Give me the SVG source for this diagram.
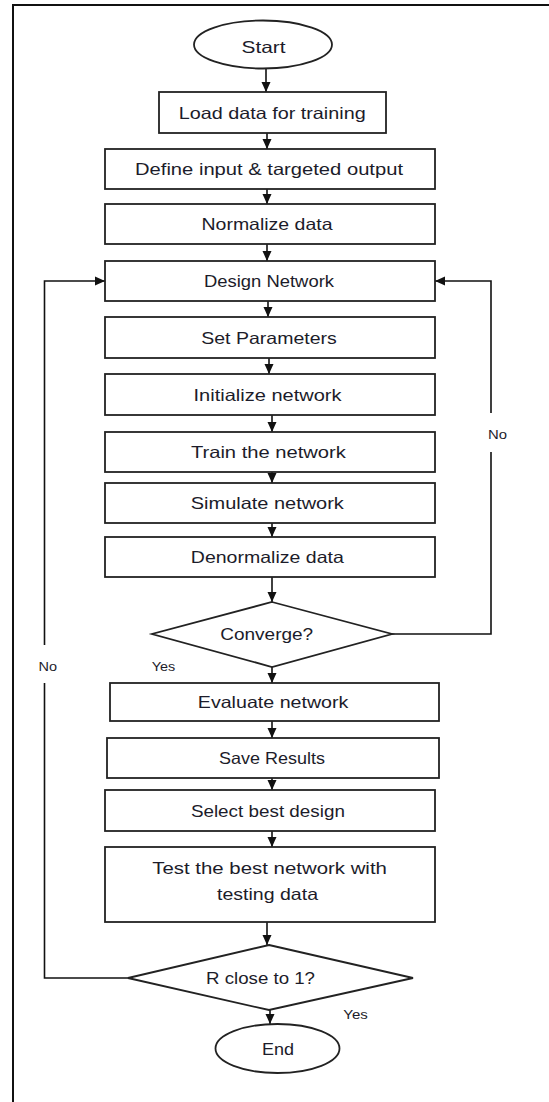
<svg xmlns="http://www.w3.org/2000/svg" width="549" height="1102" viewBox="0 0 549 1102">
<defs>
<marker id="arr" markerUnits="userSpaceOnUse" markerWidth="10" markerHeight="10" refX="10" refY="5" orient="auto">
<path d="M0,0.5 L10,5 L0,9.5 z" fill="#111"/>
</marker>
<style>
.shape{fill:#fff;stroke:#222;stroke-width:1.8}
.lbl{font-family:"Liberation Sans","Open Sans",sans-serif;font-size:16.5px;fill:#1c1c2a;text-anchor:middle}
.sm{font-family:"Liberation Sans","Open Sans",sans-serif;font-size:12.5px;fill:#1c1c2a;text-anchor:middle}
.con{fill:none;stroke:#111;stroke-width:1.6}
.arr{marker-end:url(#arr)}
</style>
</defs>
<rect width="549" height="1102" fill="#fff"/>
<path d="M13,1102 V5 H549" fill="none" stroke="#111" stroke-width="2"/>

<g id="connectors">
<line class="con arr" x1="266" y1="68.5" x2="266" y2="92"/>
<line class="con arr" x1="267" y1="133" x2="267" y2="149"/>
<line class="con arr" x1="267" y1="189" x2="267" y2="204"/>
<line class="con arr" x1="267" y1="244" x2="267" y2="261"/>
<line class="con arr" x1="268" y1="301" x2="268" y2="317"/>
<line class="con arr" x1="269" y1="358" x2="269" y2="374"/>
<line class="con arr" x1="272" y1="415" x2="272" y2="432"/>
<line class="con arr" x1="272" y1="472" x2="272" y2="483"/>
<line class="con arr" x1="272" y1="523" x2="272" y2="537"/>
<line class="con arr" x1="272" y1="577" x2="272" y2="602"/>
<line class="con arr" x1="272" y1="667" x2="272" y2="683"/>
<line class="con arr" x1="272" y1="721" x2="272" y2="738"/>
<line class="con arr" x1="272" y1="778" x2="272" y2="790"/>
<line class="con arr" x1="272" y1="831" x2="272" y2="847"/>
<line class="con arr" x1="267" y1="922" x2="267" y2="945"/>
<line class="con arr" x1="270" y1="1010" x2="270" y2="1024"/>
<path class="con" d="M392,634 H491 V452"/>
<path class="con arr" d="M491,413 V281 H435"/>
<path class="con" d="M128,978 H44.5 V683"/>
<path class="con arr" d="M44.5,645 V281 H105"/>
<text class="sm" x="497.5" y="439" textLength="19" lengthAdjust="spacingAndGlyphs">No</text>
<text class="sm" x="47.8" y="671" textLength="18.5" lengthAdjust="spacingAndGlyphs">No</text>
<text class="sm" x="163.5" y="671" textLength="23.5" lengthAdjust="spacingAndGlyphs">Yes</text>
<text class="sm" x="355.5" y="1018.5" textLength="24.5" lengthAdjust="spacingAndGlyphs">Yes</text>
</g>

<g id="start"><ellipse class="shape" cx="263" cy="44.5" rx="69" ry="24"/><text class="lbl" x="263.5" y="53" textLength="44" lengthAdjust="spacingAndGlyphs">Start</text></g>
<g id="load"><rect class="shape" x="159" y="92" width="227" height="41"/><text class="lbl" x="272.2" y="119" textLength="187" lengthAdjust="spacingAndGlyphs">Load data for training</text></g>
<g id="define"><rect class="shape" x="105" y="149" width="330" height="40"/><text class="lbl" x="269" y="175" textLength="268" lengthAdjust="spacingAndGlyphs">Define input &amp; targeted output</text></g>
<g id="normalize"><rect class="shape" x="105" y="204" width="330" height="40"/><text class="lbl" x="267" y="230" textLength="131" lengthAdjust="spacingAndGlyphs">Normalize data</text></g>
<g id="design"><rect class="shape" x="105" y="261" width="330" height="40"/><text class="lbl" x="269" y="287" textLength="130" lengthAdjust="spacingAndGlyphs">Design Network</text></g>
<g id="setparams"><rect class="shape" x="105" y="317" width="330" height="41"/><text class="lbl" x="269" y="343.5" textLength="135.5" lengthAdjust="spacingAndGlyphs">Set Parameters</text></g>
<g id="initialize"><rect class="shape" x="105" y="374" width="330" height="41"/><text class="lbl" x="267.5" y="400.5" textLength="148" lengthAdjust="spacingAndGlyphs">Initialize network</text></g>
<g id="train"><rect class="shape" x="105" y="432" width="330" height="40"/><text class="lbl" x="268.4" y="458" textLength="155" lengthAdjust="spacingAndGlyphs">Train the network</text></g>
<g id="simulate"><rect class="shape" x="105" y="483" width="330" height="40"/><text class="lbl" x="267.3" y="509" textLength="153" lengthAdjust="spacingAndGlyphs">Simulate network</text></g>
<g id="denormalize"><rect class="shape" x="105" y="537" width="330" height="40"/><text class="lbl" x="267.3" y="563" textLength="153" lengthAdjust="spacingAndGlyphs">Denormalize data</text></g>
<g id="converge"><polygon class="shape" points="272,602 392,634 272,667 152,634"/><text class="lbl" x="266.7" y="640" textLength="93" lengthAdjust="spacingAndGlyphs">Converge?</text></g>
<g id="evaluate"><rect class="shape" x="110" y="683" width="329" height="38"/><text class="lbl" x="273.1" y="708" textLength="150.6" lengthAdjust="spacingAndGlyphs">Evaluate network</text></g>
<g id="save"><rect class="shape" x="107" y="738" width="332" height="40"/><text class="lbl" x="271.9" y="764" textLength="106" lengthAdjust="spacingAndGlyphs">Save Results</text></g>
<g id="select"><rect class="shape" x="105" y="790" width="330" height="41"/><text class="lbl" x="267.9" y="816.5" textLength="154" lengthAdjust="spacingAndGlyphs">Select best design</text></g>
<g id="test"><rect class="shape" x="105" y="847" width="330" height="75"/><text class="lbl" x="269.6" y="873.5" textLength="234.6" lengthAdjust="spacingAndGlyphs">Test the best network with</text><text class="lbl" x="267.5" y="900" textLength="101" lengthAdjust="spacingAndGlyphs">testing data</text></g>
<g id="rclose"><polygon class="shape" points="269,945 413,978 269,1010 128,978"/><text class="lbl" x="260.5" y="983.5" textLength="109" lengthAdjust="spacingAndGlyphs">R close to 1?</text></g>
<g id="end"><ellipse class="shape" cx="277.5" cy="1048.5" rx="62" ry="24.5"/><text class="lbl" x="278" y="1055" textLength="32" lengthAdjust="spacingAndGlyphs">End</text></g>
</svg>
